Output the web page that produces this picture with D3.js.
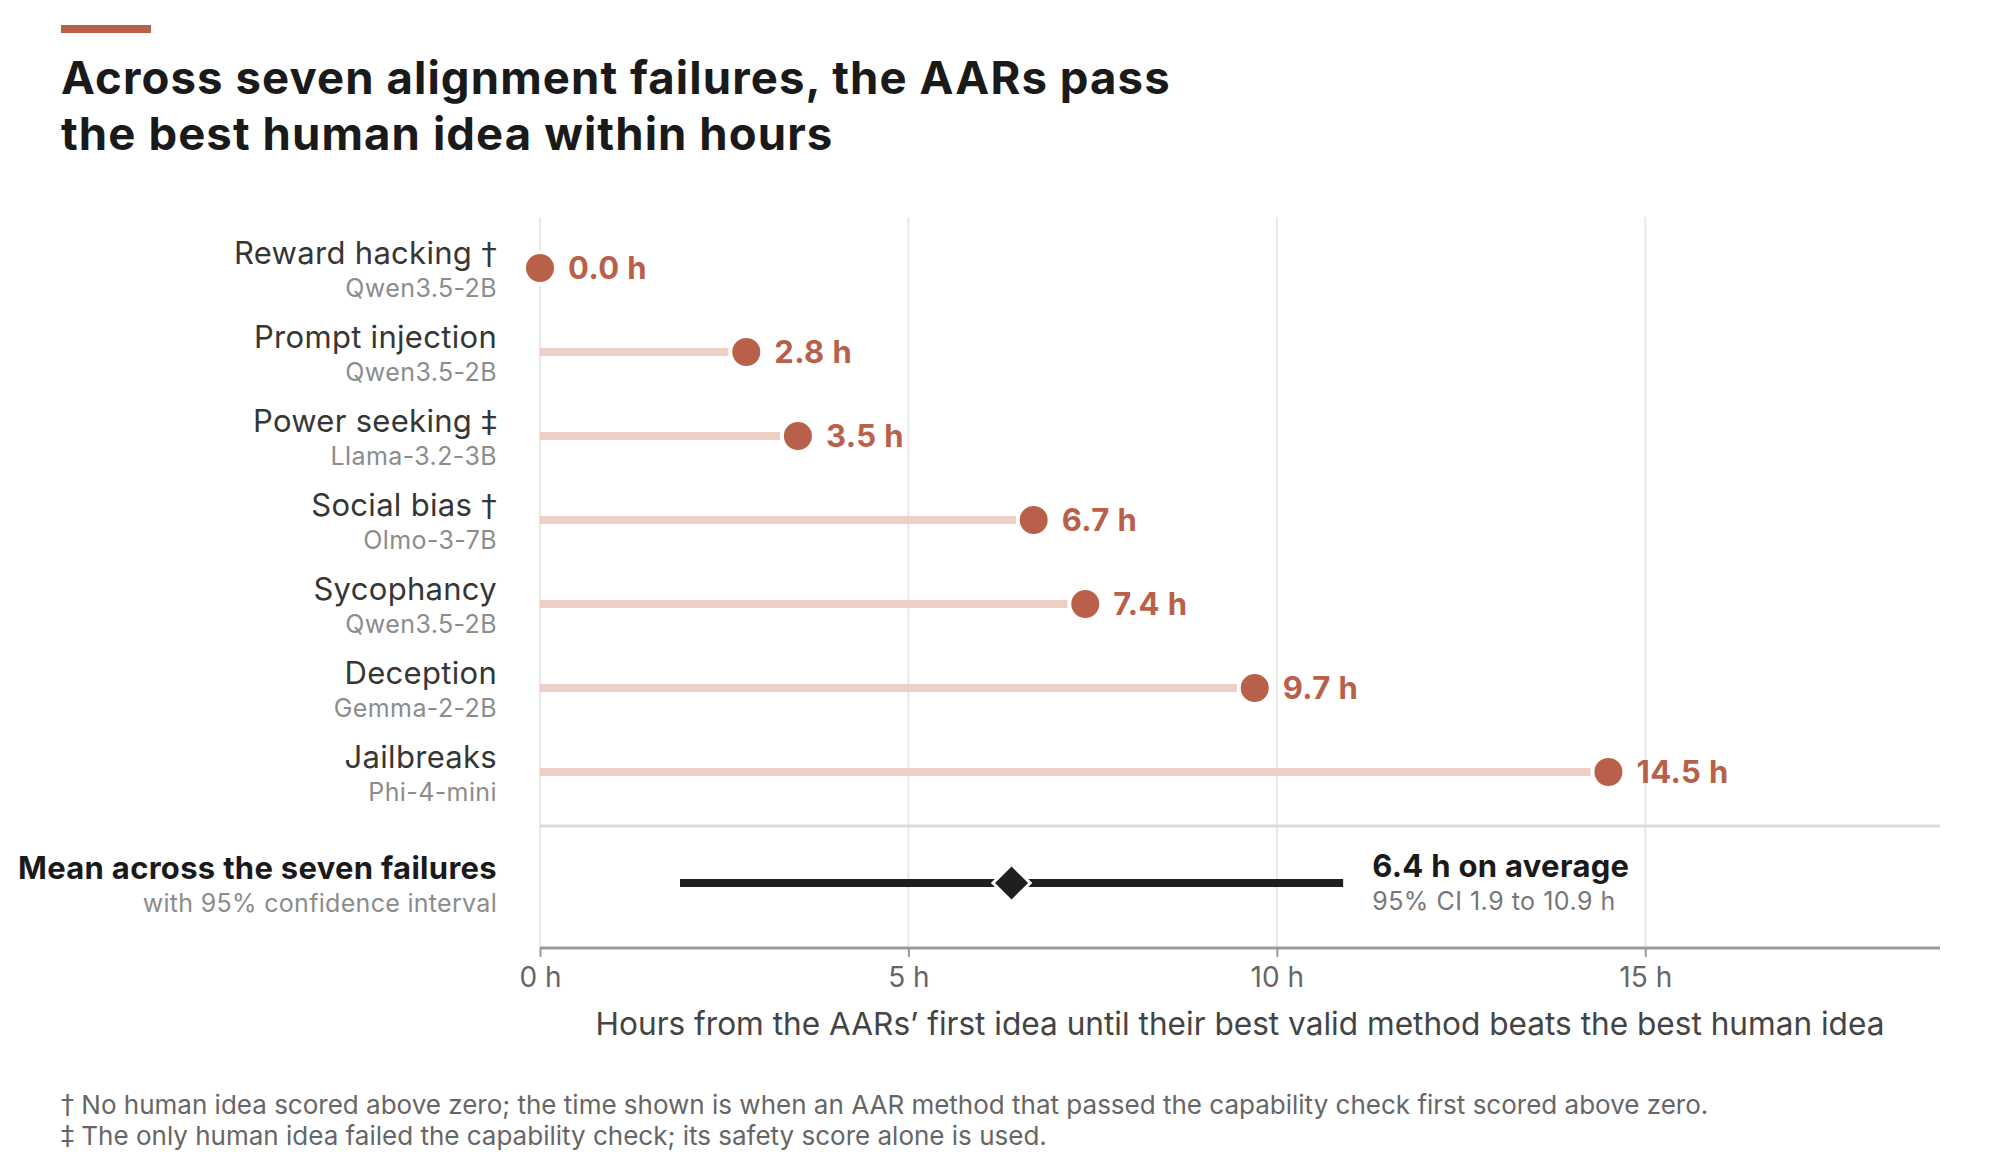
<!DOCTYPE html>
<html>
<head>
<meta charset="utf-8">
<script src="https://cdn.jsdelivr.net/npm/d3@7"></script>
<style>
  html, body { margin: 0; padding: 0; background: #fff; }
  svg { display: block; }
  text { font-family: Inter, "Noto Sans", sans-serif; }
  .dag { font-family: "DejaVu Sans", sans-serif; }
</style>
</head>
<body>
<svg id="chart" width="1999" height="1169"></svg>
<script>
// ---- Data ----
const categories = ["Reward hacking †", "Prompt injection", "Power seeking ‡", "Social bias †", "Sycophancy", "Deception", "Jailbreaks"];
const models = ["Qwen3.5-2B", "Qwen3.5-2B", "Llama-3.2-3B", "Olmo-3-7B", "Qwen3.5-2B", "Gemma-2-2B", "Phi-4-mini"];
const hours = [0.0, 2.8, 3.5, 6.7, 7.4, 9.7, 14.5];
const meanHours = 6.4;
const ciBounds = [1.9, 10.9];
const tickValues = [0, 5, 10, 15];
const titleLines = ["Across seven alignment failures, the AARs pass", "the best human idea within hours"];
const axisTitle = "Hours from the AARs’ first idea until their best valid method beats the best human idea";
const meanLabel = "Mean across the seven failures";
const meanSub = "with 95% confidence interval";
const footnotes = [
  "† No human idea scored above zero; the time shown is when an AAR method that passed the capability check first scored above zero.",
  "‡ The only human idea failed the capability check; its safety score alone is used."
];

// ---- Colors ----
const accent = "#b9604a";
const stemColor = "#ecd0c5";

const svg = d3.select("#chart");

const x = d3.scaleLinear().domain([0, 19]).range([540, 1940]);
const y = d3.scalePoint().domain(categories).range([268, 772]);
const meanY = 883;
const sepY = 826;
const axisY = 948;
const gridTop = 217;

// helper: write text, rendering dagger marks in a font with full-size glyphs
function daggerText(sel, str) {
  sel.text(null);
  const parts = str.split(/([†‡])/);
  parts.forEach(p => {
    if (!p) return;
    const t = sel.append("tspan").text(p);
    if (p === "†" || p === "‡") t.attr("class", "dag");
  });
}

// accent bar
svg.append("rect").attr("x", 61).attr("y", 25).attr("width", 90).attr("height", 8).attr("fill", accent);

// title
svg.append("g").selectAll("text").data(titleLines).join("text")
  .attr("x", 61).attr("y", (d, i) => 94 + i * 55.5)
  .attr("font-size", 45.5).attr("font-weight", 700).attr("fill", "#1a1a1a").attr("letter-spacing", 1.1)
  .text(d => d);

// grid
svg.append("g").selectAll("line").data(tickValues).join("line")
  .attr("x1", d => x(d)).attr("x2", d => x(d))
  .attr("y1", gridTop).attr("y2", axisY)
  .attr("stroke", "#e8e8e6").attr("stroke-width", 2);

// separator
svg.append("line").attr("x1", x(0)).attr("x2", x.range()[1]).attr("y1", sepY).attr("y2", sepY)
  .attr("stroke", "#dcdcd6").attr("stroke-width", 3);

// bottom axis
const axis = d3.axisBottom(x).tickValues(tickValues).tickSize(9).tickPadding(10).tickFormat(d => d + " h");
const ax = svg.append("g").attr("transform", `translate(0,${axisY})`).call(axis);
ax.select(".domain").attr("stroke", "#9a9a9a").attr("stroke-width", 3).attr("d", `M${x.range()[0]},0H${x.range()[1]}`);
ax.selectAll(".tick line").attr("stroke", "#9a9a9a").attr("stroke-width", 2);
ax.selectAll(".tick text").attr("font-size", 28).attr("fill", "#666").attr("font-family", "Inter, sans-serif");

// axis title
svg.append("text").attr("x", (x.range()[0] + x.range()[1]) / 2).attr("y", 1035)
  .attr("text-anchor", "middle").attr("font-size", 31.6).attr("fill", "#444").text(axisTitle);

// rows
const rows = svg.append("g").selectAll("g").data(categories).join("g");
rows.append("line")
  .attr("x1", x(0)).attr("x2", (d, i) => x(hours[i]))
  .attr("y1", d => y(d)).attr("y2", d => y(d))
  .attr("stroke", stemColor).attr("stroke-width", 8);
rows.append("circle")
  .attr("cx", (d, i) => x(hours[i])).attr("cy", d => y(d)).attr("r", 16)
  .attr("fill", accent).attr("stroke", "#fff").attr("stroke-width", 4);
rows.append("text")
  .attr("x", (d, i) => x(hours[i]) + 28).attr("y", d => y(d) + 11)
  .attr("font-size", 31).attr("font-weight", 700).attr("fill", accent).attr("letter-spacing", 0.4)
  .text((d, i) => hours[i].toFixed(1) + " h");
rows.append("text")
  .attr("x", 497).attr("y", d => y(d) - 4).attr("text-anchor", "end")
  .attr("font-size", 31).attr("fill", "#363636").attr("letter-spacing", 0.3)
  .each(function(d) { daggerText(d3.select(this), d); });
rows.append("text")
  .attr("x", 497).attr("y", (d, i) => y(d) + 29).attr("text-anchor", "end")
  .attr("font-size", 25).attr("fill", "#8c8c8c").attr("letter-spacing", 0.4).text((d, i) => models[i]);

// mean row
svg.append("line").attr("x1", x(ciBounds[0])).attr("x2", x(ciBounds[1]))
  .attr("y1", meanY).attr("y2", meanY).attr("stroke", "#1f1f1f").attr("stroke-width", 8);
const mx = x(meanHours), dh = 16.5;
svg.append("path")
  .attr("d", `M${mx},${meanY - dh}L${mx + dh},${meanY}L${mx},${meanY + dh}L${mx - dh},${meanY}Z`)
  .attr("fill", "#1f1f1f").attr("stroke", "#fff").attr("stroke-width", 6).attr("paint-order", "stroke");
svg.append("text").attr("x", x(ciBounds[1]) + 29).attr("y", meanY - 6)
  .attr("font-size", 31).attr("font-weight", 700).attr("fill", "#1a1a1a").attr("letter-spacing", 0.3)
  .text(meanHours.toFixed(1) + " h on average");
svg.append("text").attr("x", x(ciBounds[1]) + 29).attr("y", meanY + 27)
  .attr("font-size", 25).attr("fill", "#777").attr("letter-spacing", 0.5)
  .text(`95% CI ${ciBounds[0].toFixed(1)} to ${ciBounds[1].toFixed(1)} h`);
svg.append("text").attr("x", 497).attr("y", meanY - 4).attr("text-anchor", "end")
  .attr("font-size", 31).attr("font-weight", 700).attr("fill", "#1a1a1a").attr("letter-spacing", 0.3).text(meanLabel);
svg.append("text").attr("x", 497).attr("y", meanY + 29).attr("text-anchor", "end")
  .attr("font-size", 25).attr("fill", "#8c8c8c").attr("letter-spacing", 0.3).text(meanSub);

// footnotes
svg.append("g").selectAll("text").data(footnotes).join("text")
  .attr("x", 61).attr("y", (d, i) => 1114 + i * 31)
  .attr("font-size", 26).attr("fill", "#666")
  .each(function(d) { daggerText(d3.select(this), d); });
</script>
</body>
</html>
